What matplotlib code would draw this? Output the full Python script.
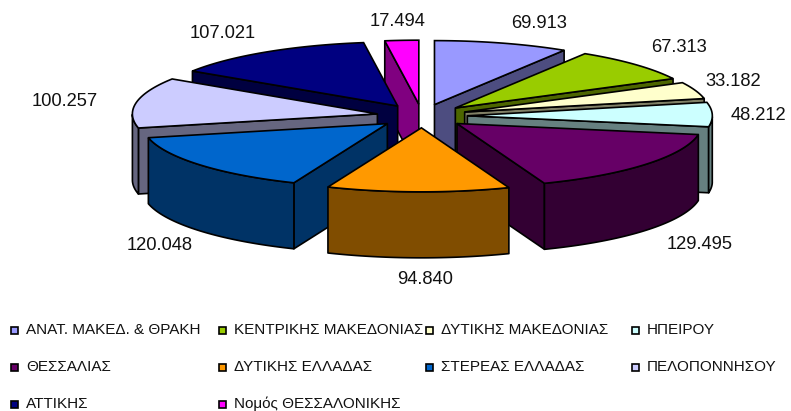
import numpy as np
import matplotlib
matplotlib.use("Agg")
import matplotlib.pyplot as plt
from matplotlib.patches import Polygon, Rectangle

# =========================
# DATA
# =========================
regions = ["ΑΝΑΤ. ΜΑΚΕΔ. & ΘΡΑΚΗ", "ΚΕΝΤΡΙΚΗΣ ΜΑΚΕΔΟΝΙΑΣ", "ΔΥΤΙΚΗΣ ΜΑΚΕΔΟΝΙΑΣ", "ΗΠΕΙΡΟΥ",
           "ΘΕΣΣΑΛΙΑΣ", "ΔΥΤΙΚΗΣ ΕΛΛΑΔΑΣ", "ΣΤΕΡΕΑΣ ΕΛΛΑΔΑΣ", "ΠΕΛΟΠΟΝΝΗΣΟΥ",
           "ΑΤΤΙΚΗΣ", "Νομός ΘΕΣΣΑΛΟΝΙΚΗΣ"]
values = [69.913, 67.313, 33.182, 48.212, 129.495, 94.840, 120.048, 100.257, 107.021, 17.494]
value_labels = ["69.913", "67.313", "33.182", "48.212", "129.495",
                "94.840", "120.048", "100.257", "107.021", "17.494"]
colors = ["#9999FF", "#99CC00", "#FFFFCC", "#CCFFFF", "#660066",
          "#FF9900", "#0066CC", "#CCCCFF", "#000080", "#FF00FF"]

# =========================
# LAYOUT (pixels of the 791x411 figure)
# =========================
CX, CY = 422, 116
RX, RY = 245, 64
EXPLODE = 0.185
DEPTH = 66

label_pos = [(539, 23), (679, 48), (733, 81), (758, 115), (700, 244),
             (425, 279), (160, 245), (65, 101), (223, 34), (398, 21)]
legend_x = [14, 222, 429, 635]
legend_y = [330, 367, 404]

plt.rcParams["font.family"] = ["Liberation Sans", "DejaVu Sans"]

fig = plt.figure(figsize=(7.91, 4.11), dpi=100)
ax = fig.add_axes([0, 0, 1, 1])
ax.set_xlim(0, 791)
ax.set_ylim(411, 0)
ax.axis("off")


def dark(hex_color):
    return tuple(c * 0.5 for c in matplotlib.colors.to_rgb(hex_color))


def wall(points, color, z):
    # extrude a top edge down by the pie depth
    pts = np.asarray(points)
    low = pts[::-1] + [0, DEPTH]
    ax.add_patch(Polygon(np.vstack([pts, low]), closed=True, facecolor=color,
                         edgecolor="black", linewidth=1.2, joinstyle="round", zorder=z))


# =========================
# 1) Slice angles
# =========================
vals = np.array(values)
edges = np.concatenate([[0], np.cumsum(vals)]) / vals.sum() * 2 * np.pi
mids = (edges[:-1] + edges[1:]) / 2

# back slices first
order = np.argsort(-np.cos(mids))

# =========================
# 2) Draw slices
# =========================
for n, i in enumerate(order):
    a0, a1, mid = edges[i], edges[i + 1], mids[i]
    apex = np.array([CX + EXPLODE * RX * np.sin(mid), CY - EXPLODE * RY * np.cos(mid)])
    t = np.linspace(a0, a1, max(int(np.degrees(a1 - a0)), 2) + 1)
    arc = np.column_stack([apex[0] + RX * np.sin(t), apex[1] - RY * np.cos(t)])
    z = 10 + n * 3
    side = dark(colors[i])

    # radial walls, only those facing the viewer
    if np.sin(a0) < -1e-6:
        wall([apex, arc[0]], side, z)
    if np.sin(a1) > 1e-6:
        wall([arc[-1], apex], side, z)

    # outer wall, lower half of the ellipse only
    lower = np.cos(t) < 0
    if lower.sum() > 1:
        wall(arc[lower], side, z + 1)

    ax.add_patch(Polygon(np.vstack([apex, arc]), closed=True, facecolor=colors[i],
                         edgecolor="black", linewidth=1.2, zorder=z + 2))

# =========================
# 3) Value labels
# =========================
for txt, (x, y) in zip(value_labels, label_pos):
    ax.text(x, y, txt, fontsize=13.2, color="#111111", ha="center", va="center", zorder=100)

# =========================
# 4) Legend
# =========================
for k, name in enumerate(regions):
    row, col = k // 4, k % 4
    x, y = legend_x[col], legend_y[row]
    ax.add_patch(Rectangle((x - 3.5, y - 3.5), 7.5, 7.5, facecolor=colors[k],
                           edgecolor="black", linewidth=1.2, zorder=100))
    ax.text(x + 12, y, name, fontsize=11, color="#111111", ha="left", va="center", zorder=100)

fig.savefig("out.png", dpi=100)
